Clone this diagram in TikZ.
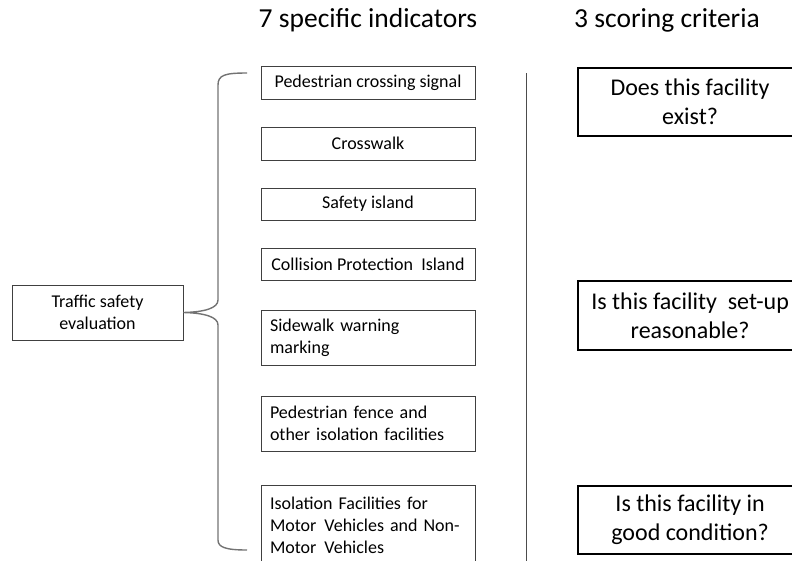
\documentclass[tikz,border=0pt]{standalone}
\usepackage{fontspec}
\setmainfont{Carlito}
\begin{document}
\begin{tikzpicture}[x=1pt,y=-1pt,
  ind/.style={draw=black!75,line width=0.9pt,minimum width=214pt,inner sep=0pt,font=\fontsize{18}{22}\selectfont},
  indl/.style={ind,align=left,text width=196pt},
  crit/.style={draw=black,line width=2.2pt,minimum width=224pt,inner sep=0pt,align=center,font=\fontsize{24}{29}\selectfont},
  ttl/.style={font=\fontsize{27.5}{32}\selectfont},
  brace/.style={draw=black!55,line width=1.4pt}]
\useasboundingbox (0,0) rectangle (792,560);
\node[ttl] (t1) at (368,20) {7 specific indicators};
\node[ttl] (t2) at (667,20) {3 scoring criteria};
\node[draw=black!75,line width=0.9pt,minimum width=171pt,minimum height=55pt,align=center,font=\fontsize{18}{22}\selectfont] (root) at (97.5,312.5) {Traffic safety\\evaluation};
\node[ind,minimum height=33pt] (i1) at (368,82.5) {Pedestrian crossing signal};
\node[ind,minimum height=33pt] (i2) at (368,143.5) {Crosswalk};
\node[ind,minimum height=32pt] (i3) at (368,204) {Safety island};
\node[ind,minimum height=32pt] (i4) at (368,264) {Collision Protection\ \ Island};
\node[indl,minimum height=55pt] (i5) at (368,337.5) {Sidewalk warning\\marking};
\node[indl,minimum height=55pt] (i6) at (368,423.5) {Pedestrian fence and\\other isolation facilities};
\node[indl,minimum height=80pt,anchor=north] (i7) at (368,485) {Isolation Facilities for\\Motor\hspace{2pt} Vehicles and Non-\\Motor\hspace{2pt} Vehicles};
\coordinate (v1) at (526,73);
\coordinate (v2) at (526,562);
\draw[black!70,line width=1pt] (v1) -- (v2);
\node[crit,minimum height=68pt,anchor=north west] (c1) at (577,67) {Does this facility\\exist?};
\node[crit,minimum height=69pt,anchor=north west] (c2) at (577,280) {Is this facility\ \ set-up\\reasonable?};
\node[crit,minimum height=68pt,anchor=north west] (c3) at (577,485) {Is this facility in\\good condition?};
\coordinate (b1) at (247,73);
\coordinate (b2) at (247,550);
\draw[brace] (b1) .. controls (225,73) and (218,75) .. (218,85) -- (218,300)
  .. controls (218,308) and (205,312) .. (root.east)
  .. controls (205,313) and (218,317) .. (218,325) -- (218,540)
  .. controls (218,547) and (225,550) .. (b2);
\end{tikzpicture}
\end{document}
